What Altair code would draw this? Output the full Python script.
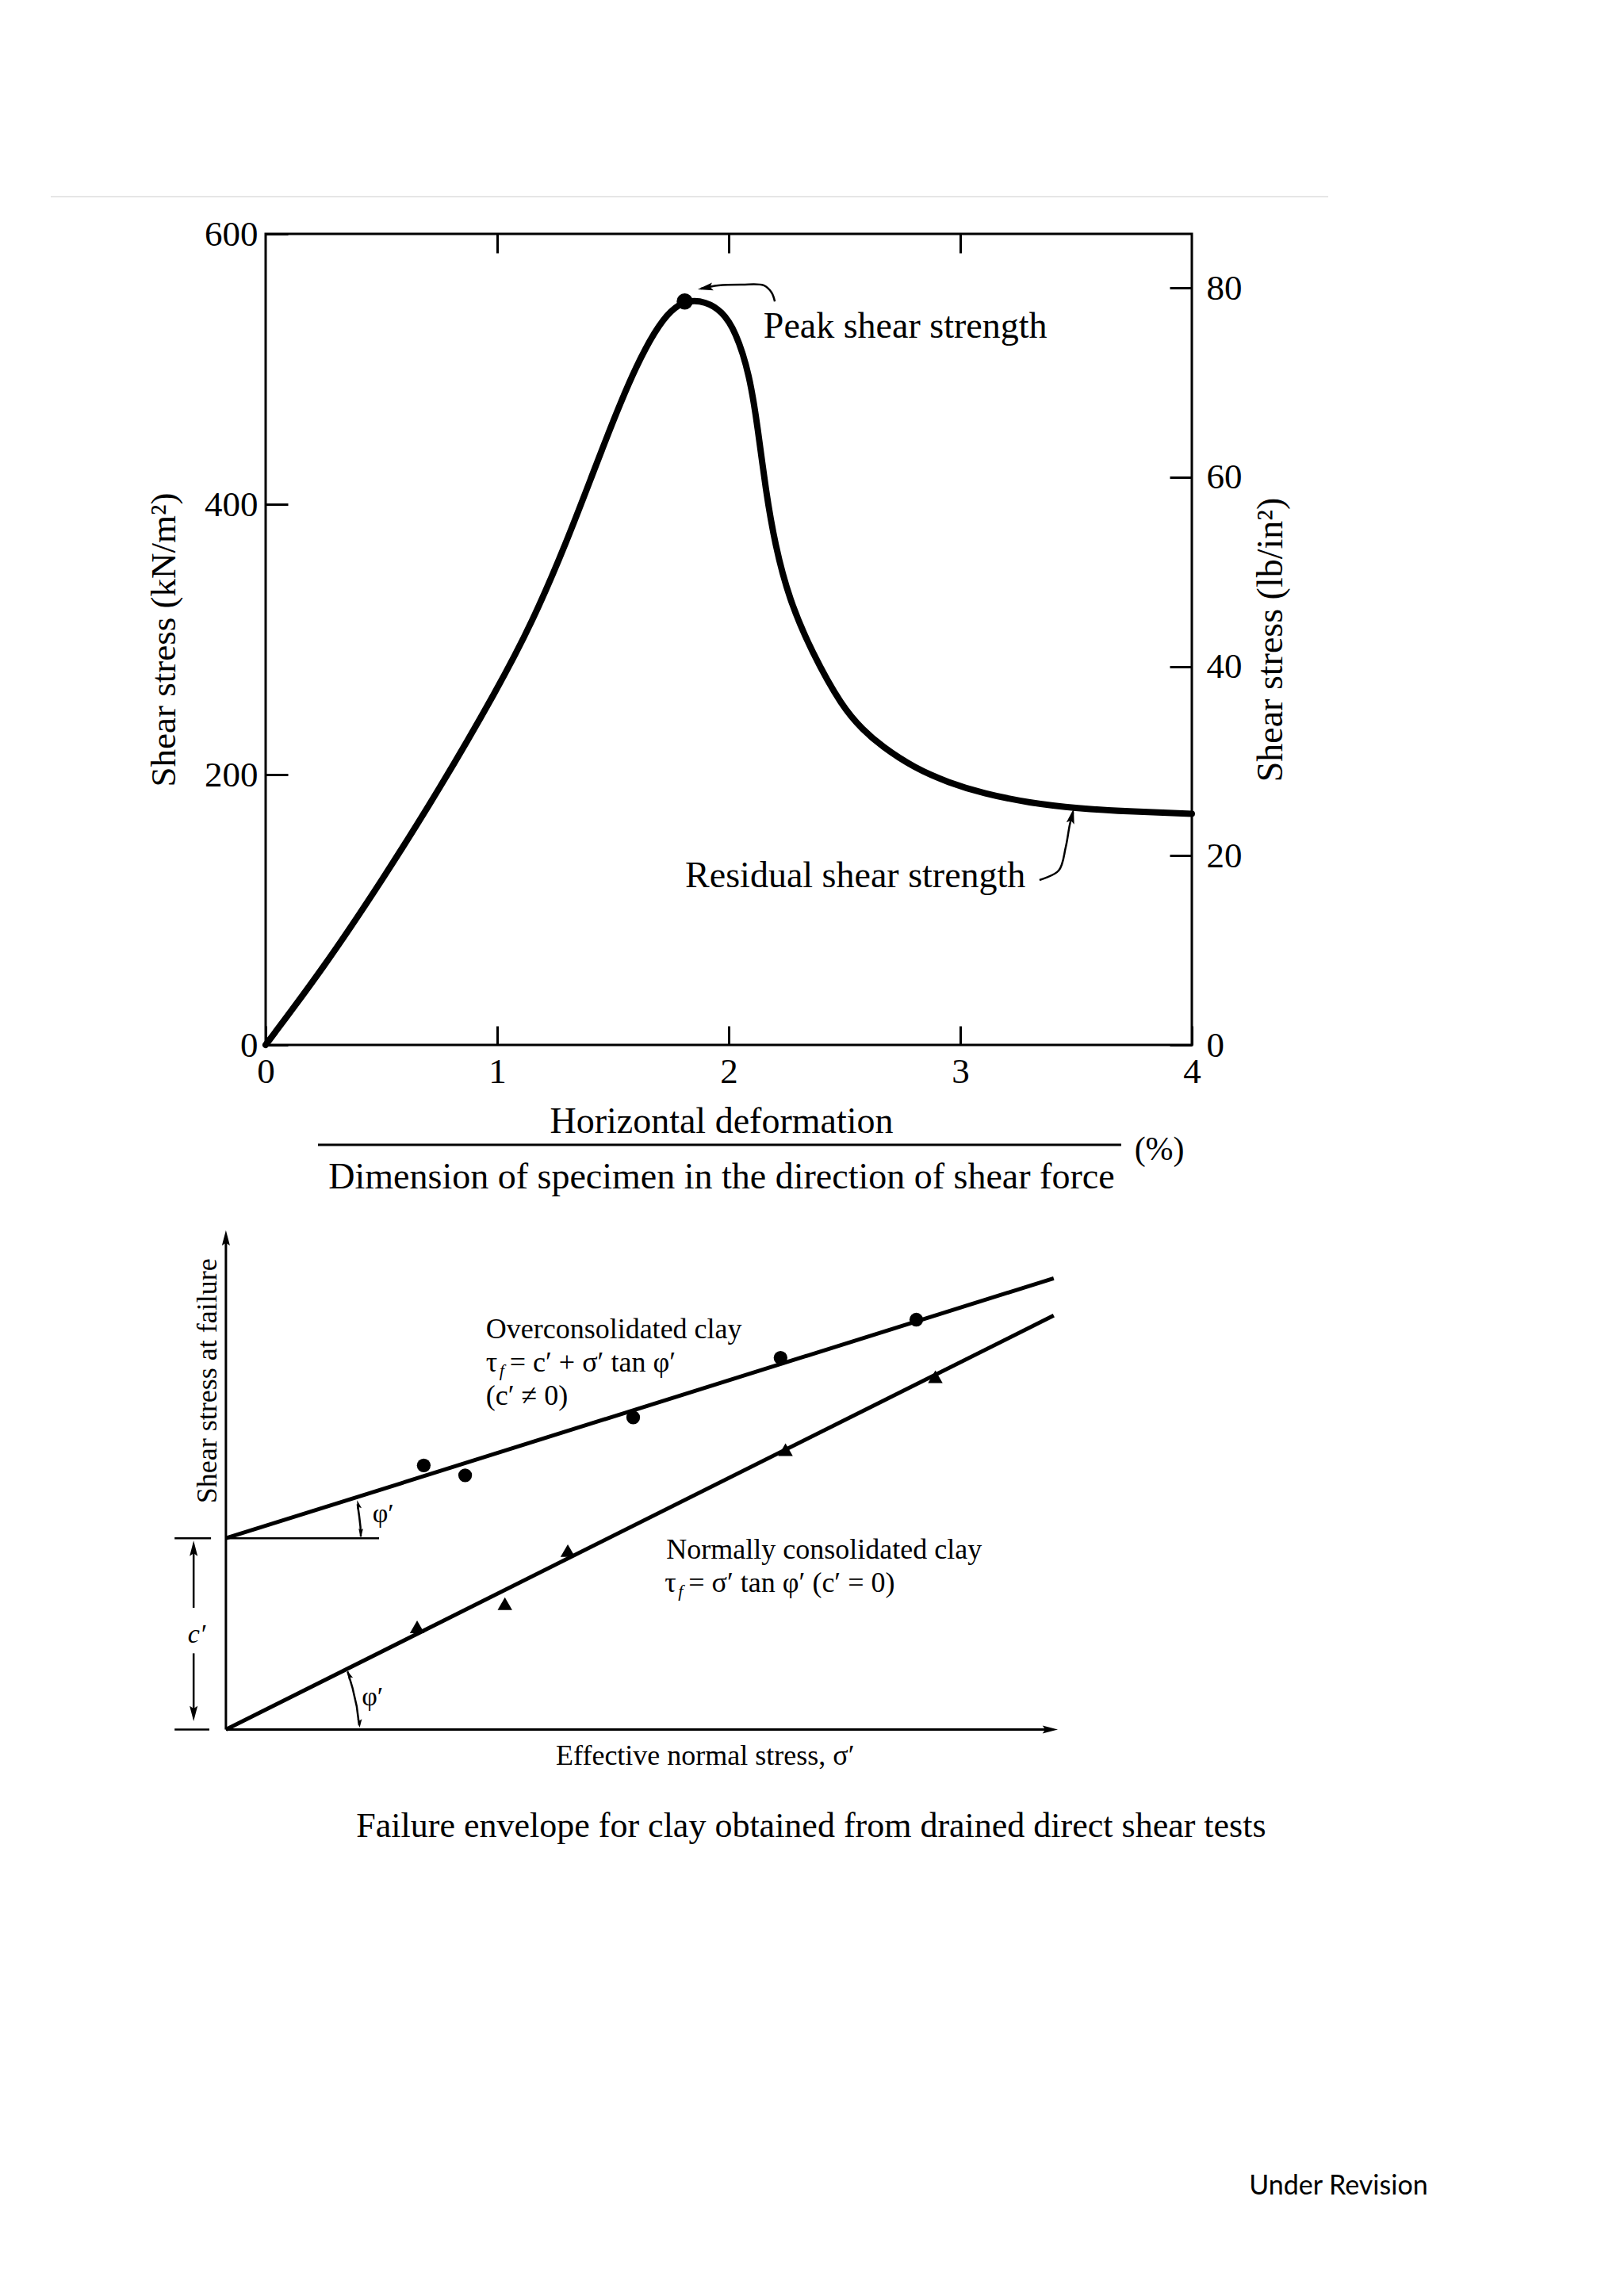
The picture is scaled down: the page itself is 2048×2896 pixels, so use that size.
import altair as alt
import pandas as pd

SERIF = "Liberation Serif"
SANS = "Lato"
INK = "black"

# ---------------- Figure 1 : shear stress vs horizontal deformation ----------------
deformation_pct = [0.0, 0.25, 0.5, 0.75, 1.0, 1.15, 1.3, 1.42, 1.52, 1.6,
                   1.68, 1.75, 1.82, 1.9, 1.97, 2.03, 2.09, 2.125, 2.16, 2.2,
                   2.26, 2.36, 2.49, 2.58, 2.66, 2.8, 2.95, 3.1, 3.3, 3.5,
                   3.75, 4.0]
shear_stress_kpa = [0, 57, 121, 189, 263, 312, 372, 426, 470, 502,
                    528, 544, 551, 550, 543, 528, 496, 457, 410, 370,
                    330, 290, 250, 233, 221, 205, 194, 186, 179, 175,
                    172.5, 171]
peak_deformation = [1.81]
peak_stress = [550]
deformation_ticks = [0, 1, 2, 3, 4]
top_ticks = [1, 2, 3]
kpa_ticks = [0, 200, 400, 600]
psi_ticks = [0, 20, 40, 60, 80]
KPA_PER_PSI = 7.0  # spacing of the right-hand scale as drawn

annotation_labels = ["Peak shear strength", "Residual shear strength"]
fraction_labels = ["Horizontal deformation",
                   "Dimension of specimen in the direction of shear force"]
percent_label = ["(%)"]

# annotation placement (in deformation %, kN/m2 units)
ann_x, ann_y = [2.150, 1.812], [531.4, 124.9]
frac_x, frac_y = [1.969, 1.969], [-56.9, -97.9]
pct_x, pct_y = [3.86], [-77.4]
frac_rule_x, frac_rule_x2, frac_rule_y = [0.226], [3.695], [-73.9]
header_rule_x, header_rule_x2, header_rule_y = [-0.928], [4.589], [627.6]
peak_arrow_x = [2.199, 2.185, 2.151, 2.058, 1.955, 1.880]
peak_arrow_y = [550.0, 556.6, 561.9, 562.5, 561.9, 559.5]
res_arrow_x = [3.342, 3.425, 3.455, 3.473, 3.487]
res_arrow_y = [122, 129, 146, 163, 172]
head_x, head_y, head_angle = [1.866, 3.490], [558.9, 175.0], [259, 13]

# ---------------- Figure 2 : failure envelopes ----------------
oc_sigma = [2.39, 2.89, 4.92, 6.70, 8.34]
oc_tau = [3.19, 3.07, 3.77, 4.49, 4.95]
nc_sigma = [2.31, 3.37, 4.13, 6.76, 8.57]
nc_tau = [1.24, 1.52, 2.16, 3.38, 4.26]
c_prime = 2.31
oc_env_sigma, oc_env_tau = [0, 10], [2.31, 5.45]
nc_env_sigma, nc_env_tau = [0, 10], [0.0, 5.0]

ARROW = "M0,0L0.26,1L0,0.82L-0.26,1Z"

# ======================= top chart =======================
x_axis = alt.Axis(orient="bottom", values=deformation_ticks, format="d", offset=-24,
                  tickSize=24, tickWidth=3, tickColor=INK, domain=False, grid=False,
                  labelFont=SERIF, labelFontSize=45, labelColor=INK, labelPadding=11,
                  labelFlush=False, labelOverlap=False, title=None)
y_axis = alt.Axis(orient="left", values=kpa_ticks, format="d", offset=-28, tickSize=28,
                  tickWidth=3, tickColor=INK, domain=False, grid=False,
                  labelFont=SERIF, labelFontSize=45, labelColor=INK, labelPadding=10,
                  labelFlush=False, labelOverlap=False,
                  title="Shear stress (kN/m²)", titleFont=SERIF, titleFontSize=45,
                  titleFontWeight="normal", titleColor=INK, titlePadding=28)
psi_axis = alt.Axis(orient="right", values=psi_ticks, format="d", offset=-28, tickSize=28,
                    tickWidth=3, tickColor=INK, domain=False, grid=False,
                    labelFont=SERIF, labelFontSize=45, labelColor=INK, labelPadding=18,
                    labelFlush=False, labelOverlap=False,
                    title="Shear stress (lb/in²)", titleFont=SERIF, titleFontSize=46,
                    titleFontWeight="normal", titleColor=INK, titleAngle=270,
                    titleBaseline="top", titlePadding=14)
top_axis = alt.Axis(orient="top", values=top_ticks, offset=-24, tickSize=24, tickWidth=3,
                    tickColor=INK, domain=False, grid=False, labels=False, title=None)

xscale = alt.Scale(domain=[0, 4], nice=False, zero=False)
XE = alt.X("x:Q", scale=xscale, axis=x_axis)
YE = alt.Y("y:Q", scale=alt.Scale(domain=[0, 600], nice=False, zero=False), axis=y_axis)

curve_df = pd.DataFrame({"x": deformation_pct, "y": shear_stress_kpa})
peak_df = pd.DataFrame({"x": peak_deformation, "y": peak_stress})
arrow_df = pd.DataFrame({
    "id": ["p"] * len(peak_arrow_x) + ["r"] * len(res_arrow_x),
    "ord": list(range(len(peak_arrow_x))) + list(range(len(res_arrow_x))),
    "x": peak_arrow_x + res_arrow_x,
    "y": peak_arrow_y + res_arrow_y,
})
head_df = pd.DataFrame({"x": head_x, "y": head_y, "ang": head_angle})
ann_df = pd.DataFrame({"x": ann_x, "y": ann_y, "label": annotation_labels})
frac_df = pd.DataFrame({"x": frac_x, "y": frac_y, "label": fraction_labels})
pct_df = pd.DataFrame({"x": pct_x, "y": pct_y, "label": percent_label})
frac_rule_df = pd.DataFrame({"x": frac_rule_x, "x2": frac_rule_x2, "y": frac_rule_y})
header_rule_df = pd.DataFrame({"x": header_rule_x, "x2": header_rule_x2, "y": header_rule_y})

curve = alt.Chart(curve_df).mark_line(color=INK, strokeWidth=8, interpolate="basis",
                                      strokeCap="round").encode(x=XE, y=YE)
peak = alt.Chart(peak_df).mark_circle(color=INK, size=420, opacity=1).encode(x=XE, y=YE)
arrows = alt.Chart(arrow_df).mark_line(color=INK, strokeWidth=2.5,
                                       interpolate="catmull-rom").encode(
    x=XE, y=YE, detail="id:N", order="ord:Q")
heads = alt.Chart(head_df).mark_point(shape=ARROW, filled=True, color=INK, opacity=1,
                                      strokeWidth=0, size=1500).encode(
    x=XE, y=YE, angle=alt.Angle("ang:Q", scale=None))
ann_text = alt.Chart(ann_df).mark_text(font=SERIF, fontSize=46, align="left",
                                       baseline="middle", color=INK).encode(
    x=XE, y=YE, text="label:N")
frac_text = alt.Chart(frac_df).mark_text(font=SERIF, fontSize=46, align="center",
                                         baseline="middle", color=INK).encode(
    x=XE, y=YE, text="label:N")
pct_text = alt.Chart(pct_df).mark_text(font=SERIF, fontSize=42, align="center",
                                       baseline="middle", color=INK).encode(
    x=XE, y=YE, text="label:N")
frac_rule = alt.Chart(frac_rule_df).mark_rule(color=INK, strokeWidth=3).encode(
    x=XE, x2="x2:Q", y=YE)
header_rule = alt.Chart(header_rule_df).mark_rule(color="#e6e6e6", strokeWidth=2).encode(
    x=XE, x2="x2:Q", y=YE)

kpa_group = alt.layer(header_rule, curve, peak, arrows, heads, ann_text, frac_text,
                      pct_text, frac_rule)
psi_layer = alt.Chart(pd.DataFrame({"psi": psi_ticks})).mark_point(opacity=0).encode(
    y=alt.Y("psi:Q", scale=alt.Scale(domain=[0, 600 / KPA_PER_PSI], nice=False, zero=False),
            axis=psi_axis))
top_layer = alt.Chart(pd.DataFrame({"t": top_ticks})).mark_point(opacity=0).encode(
    x=alt.X("t:Q", scale=xscale, axis=top_axis))

top_chart = alt.layer(kpa_group, psi_layer, top_layer).resolve_scale(
    y="independent").resolve_axis(x="independent", y="independent").properties(
    width=1168, height=1023, view=alt.ViewBackground(stroke=INK, strokeWidth=3))

# ======================= bottom chart =======================
SX = alt.X("s:Q", scale=alt.Scale(domain=[0.48, 15.5], nice=False, zero=False), axis=None)
SY = alt.Y("t:Q", scale=alt.Scale(domain=[-6.0, 6.2], nice=False, zero=False), axis=None)

axes_df = pd.DataFrame({"id": ["y", "y", "x", "x"], "ord": [0, 1, 0, 1],
                        "s": [0, 0, 0, 9.92], "t": [0, 5.92, 0, 0]})
env_df = pd.DataFrame({"id": ["oc", "oc", "nc", "nc"], "ord": [0, 1, 0, 1],
                       "s": oc_env_sigma + nc_env_sigma, "t": oc_env_tau + nc_env_tau})
thin_rows = [
    ("cl", 0, 0.0, c_prime), ("cl", 1, 1.85, c_prime),
    ("m1", 0, -0.62, c_prime), ("m1", 1, -0.18, c_prime),
    ("m2", 0, -0.62, 0.0), ("m2", 1, -0.20, 0.0),
    ("d1", 0, -0.39, 1.47), ("d1", 1, -0.39, 2.20),
    ("d2", 0, -0.39, 0.92), ("d2", 1, -0.39, 0.18),
    ("a1", 0, 1.63, 2.33), ("a1", 1, 1.625, 2.45), ("a1", 2, 1.61, 2.58), ("a1", 3, 1.59, 2.72),
    ("a2", 0, 1.47, 0.70), ("a2", 1, 1.53, 0.50), ("a2", 2, 1.58, 0.28), ("a2", 3, 1.61, 0.05),
]
thin_df = pd.DataFrame(thin_rows, columns=["id", "ord", "s", "t"])
bheads_df = pd.DataFrame({
    "s": [0.0, 10.05, -0.39, -0.39],
    "t": [6.03, 0.0, 2.28, 0.10],
    "ang": [0, 90, 0, 180],
})
sheads_df = pd.DataFrame({
    "s": [1.585, 1.63, 1.465, 1.615],
    "t": [2.77, 2.32, 0.71, 0.02],
    "ang": [345, 180, 335, 180],
})
oc_df = pd.DataFrame({"s": oc_sigma, "t": oc_tau})
nc_df = pd.DataFrame({"s": nc_sigma, "t": nc_tau})

left_text_df = pd.DataFrame({
    "s": [3.14, 3.14, 5.32],
    "t": [4.83, 4.03, 2.17],
    "label": ["Overconsolidated clay", "(c′ ≠ 0)", "Normally consolidated clay"],
})
tau_df = pd.DataFrame({"s": [3.14, 5.30], "t": [4.43, 1.77], "label": ["τ", "τ"]})
sub_df = pd.DataFrame({"s": [3.14, 5.30], "t": [4.43, 1.77], "label": ["f", "f"]})
rest_df = pd.DataFrame({"s": [3.14, 5.30], "t": [4.43, 1.77],
                        "label": ["= c′ + σ′ tan φ′", "=  σ′ tan φ′ (c′ = 0)"]})
phi_df = pd.DataFrame({"s": [1.90, 1.77], "t": [2.60, 0.39], "label": ["φ′", "φ′"]})
cp_df = pd.DataFrame({"s": [-0.354], "t": [1.14], "label": ["c′"]})
xlab_df = pd.DataFrame({"s": [5.79], "t": [-0.32], "label": ["Effective normal stress, σ′"]})
ylab_df = pd.DataFrame({"s": [-0.22], "t": [4.21], "label": ["Shear stress at failure"]})
cap_df = pd.DataFrame({"s": [7.07], "t": [-1.17],
                       "label": ["Failure envelope for clay obtained from drained direct shear tests"]})
rev_df = pd.DataFrame({"s": [13.44], "t": [-5.52], "label": ["Under Revision"]})


def txt(df, size, align="center", font=SERIF, style="normal", angle=0, dx=0, dy=0):
    return alt.Chart(df).mark_text(font=font, fontSize=size, align=align, baseline="middle",
                                   color=INK, fontStyle=style, angle=angle, dx=dx,
                                   dy=dy).encode(x=SX, y=SY, text="label:N")


b_axes = alt.Chart(axes_df).mark_line(color=INK, strokeWidth=3).encode(
    x=SX, y=SY, detail="id:N", order="ord:Q")
b_env = alt.Chart(env_df).mark_line(color=INK, strokeWidth=5).encode(
    x=SX, y=SY, detail="id:N", order="ord:Q")
b_thin = alt.Chart(thin_df).mark_line(color=INK, strokeWidth=2.5).encode(
    x=SX, y=SY, detail="id:N", order="ord:Q")
b_heads = alt.Chart(bheads_df).mark_point(shape=ARROW, filled=True, color=INK, opacity=1,
                                          strokeWidth=0, size=1500).encode(
    x=SX, y=SY, angle=alt.Angle("ang:Q", scale=None))
s_heads = alt.Chart(sheads_df).mark_point(shape=ARROW, filled=True, color=INK, opacity=1,
                                          strokeWidth=0, size=500).encode(
    x=SX, y=SY, angle=alt.Angle("ang:Q", scale=None))
b_oc = alt.Chart(oc_df).mark_circle(color=INK, size=300, opacity=1).encode(x=SX, y=SY)
b_nc = alt.Chart(nc_df).mark_point(shape="triangle-up", filled=True, color=INK, opacity=1,
                                   size=340, strokeWidth=0).encode(x=SX, y=SY)

bottom_chart = alt.layer(
    b_axes, b_env, b_thin, b_heads, s_heads, b_oc, b_nc,
    txt(left_text_df, 36, align="left"),
    txt(tau_df, 36, align="left"),
    txt(sub_df, 22, align="left", style="italic", dx=17, dy=10),
    txt(rest_df, 36, align="left", dx=30),
    txt(phi_df, 34),
    txt(cp_df, 34, style="italic"),
    txt(xlab_df, 36),
    txt(ylab_df, 36, angle=270),
    txt(cap_df, 44),
    txt(rev_df, 34, font=SANS),
).properties(width=1568, height=1274,
             view=alt.ViewBackground(stroke="transparent"))

chart = alt.vconcat(top_chart, bottom_chart, spacing=23).properties(
    padding={"left": 53, "top": 237, "right": 0, "bottom": 0},
    background="white",
).configure_view(stroke="transparent")

chart.save("out.html", embed_options={"renderer": "svg", "actions": False})
